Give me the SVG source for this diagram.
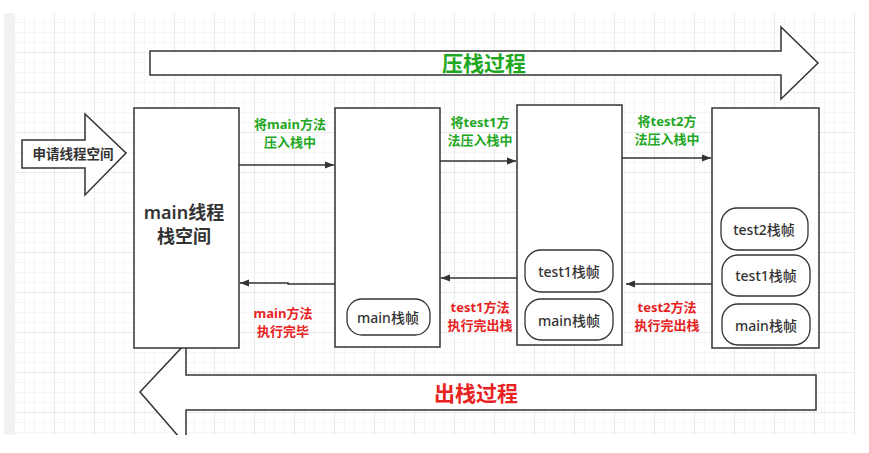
<svg xmlns="http://www.w3.org/2000/svg" width="869" height="453" viewBox="0 0 869 453">
<style>
.box{fill:#fff;stroke:#333;stroke-width:1.5}
.frame{fill:#fff;stroke:#333;stroke-width:1.3}
.big{fill:#fff;stroke:#333;stroke-width:1.5;stroke-linejoin:miter}
.conn{fill:none;stroke:#333;stroke-width:1.5}
text{font-family:"Noto Sans","Noto Sans CJK SC",sans-serif;text-anchor:middle;dominant-baseline:central}
.g{fill:#1fa81f;font-weight:bold;font-size:13px}
.r{fill:#e8231f;font-weight:bold;font-size:13px}
.ft{fill:#333;font-size:14px;font-weight:500}
.mt{fill:#333;font-size:18px;font-weight:600}
</style>
<defs>
<pattern id="minor" width="10" height="10" patternUnits="userSpaceOnUse" x="15" y="13">
<path d="M10 0V10H0" fill="none" stroke="#ececec" stroke-width="1"/>
</pattern>
<pattern id="major" width="40" height="40" patternUnits="userSpaceOnUse" x="15" y="13">
<path d="M40 0V40H0" fill="none" stroke="#dedede" stroke-width="1"/>
</pattern>
<marker id="ah" viewBox="0 0 10 10" refX="10" refY="5" markerWidth="9" markerHeight="9" markerUnits="userSpaceOnUse" orient="auto">
<path d="M0 1L10 5L0 9z" fill="#333"/>
</marker>
</defs>
<rect width="869" height="453" fill="#fff"/>
<rect x="4" y="13" width="11" height="422" fill="#f2f2f2"/>
<rect x="15" y="13" width="840" height="422" fill="#fff"/>
<rect x="15" y="13" width="840" height="422" fill="url(#minor)"/>
<rect x="15" y="13" width="840" height="422" fill="url(#major)"/>

<g id="push-arrow">
<path class="big" d="M150 51H781V27L818 63L781 99V75H150Z"/>
<text x="484" y="63" style="fill:#1fa81f;font-weight:bold;font-size:21px">压栈过程</text>
</g>

<g id="pop-arrow">
<path class="big" d="M816 375H186V343L140 392L186 445V410H816Z"/>
<text x="476" y="393" style="fill:#e8231f;font-weight:bold;font-size:21px">出栈过程</text>
</g>

<g id="request-arrow">
<path class="big" d="M22 140H85V114L126 153L85 195V168H22Z"/>
<text x="73" y="154" style="fill:#333;font-weight:bold;font-size:13.5px">申请线程空间</text>
</g>

<g id="main-stack">
<rect class="box" x="134" y="108" width="105" height="240"/>
<text class="mt" x="184" y="212">main线程</text>
<text class="mt" x="184" y="236">栈空间</text>
</g>

<g id="stack1">
<rect class="box" x="335" y="108" width="105" height="239"/>
<g id="s1-main"><rect class="frame" x="347" y="299" width="83" height="36" rx="15"/><text class="ft" x="388" y="317">main栈帧</text></g>
</g>

<g id="stack2">
<rect class="box" x="517" y="105" width="105" height="240"/>
<g id="s2-test1"><rect class="frame" x="525" y="250" width="88" height="42" rx="16"/><text class="ft" x="569" y="271">test1栈帧</text></g>
<g id="s2-main"><rect class="frame" x="525" y="299" width="88" height="41" rx="16"/><text class="ft" x="569" y="320">main栈帧</text></g>
</g>

<g id="stack3">
<rect class="box" x="712" y="108" width="107" height="240"/>
<g id="s3-test2"><rect class="frame" x="721" y="208" width="87" height="42" rx="16"/><text class="ft" x="764" y="229">test2栈帧</text></g>
<g id="s3-test1"><rect class="frame" x="722" y="255" width="88" height="41" rx="16"/><text class="ft" x="766" y="275">test1栈帧</text></g>
<g id="s3-main"><rect class="frame" x="722" y="304" width="88" height="41" rx="16"/><text class="ft" x="766" y="325">main栈帧</text></g>
</g>

<g id="connectors">
<line class="conn" x1="239" y1="165" x2="334" y2="165" marker-end="url(#ah)"/>
<line class="conn" x1="440" y1="161" x2="516" y2="161" marker-end="url(#ah)"/>
<line class="conn" x1="622" y1="158" x2="711" y2="158" marker-end="url(#ah)"/>
<path class="conn" d="M335 284H288V283H240" marker-end="url(#ah)"/>
<line class="conn" x1="517" y1="278" x2="441" y2="278" marker-end="url(#ah)"/>
<line class="conn" x1="712" y1="284" x2="626" y2="284" marker-end="url(#ah)"/>
</g>

<g id="labels">
<text class="g" x="290" y="124">将main方法</text>
<text class="g" x="290" y="142">压入栈中</text>
<text class="g" x="480" y="122">将test1方</text>
<text class="g" x="480" y="140">法压入栈中</text>
<text class="g" x="667" y="121">将test2方</text>
<text class="g" x="667" y="139">法压入栈中</text>
<text class="r" x="283" y="313">main方法</text>
<text class="r" x="283" y="331">执行完毕</text>
<text class="r" x="480" y="307">test1方法</text>
<text class="r" x="480" y="325">执行完出栈</text>
<text class="r" x="667" y="307">test2方法</text>
<text class="r" x="667" y="325">执行完出栈</text>
</g>
<rect x="0" y="435" width="869" height="18" fill="#fff"/>
</svg>
